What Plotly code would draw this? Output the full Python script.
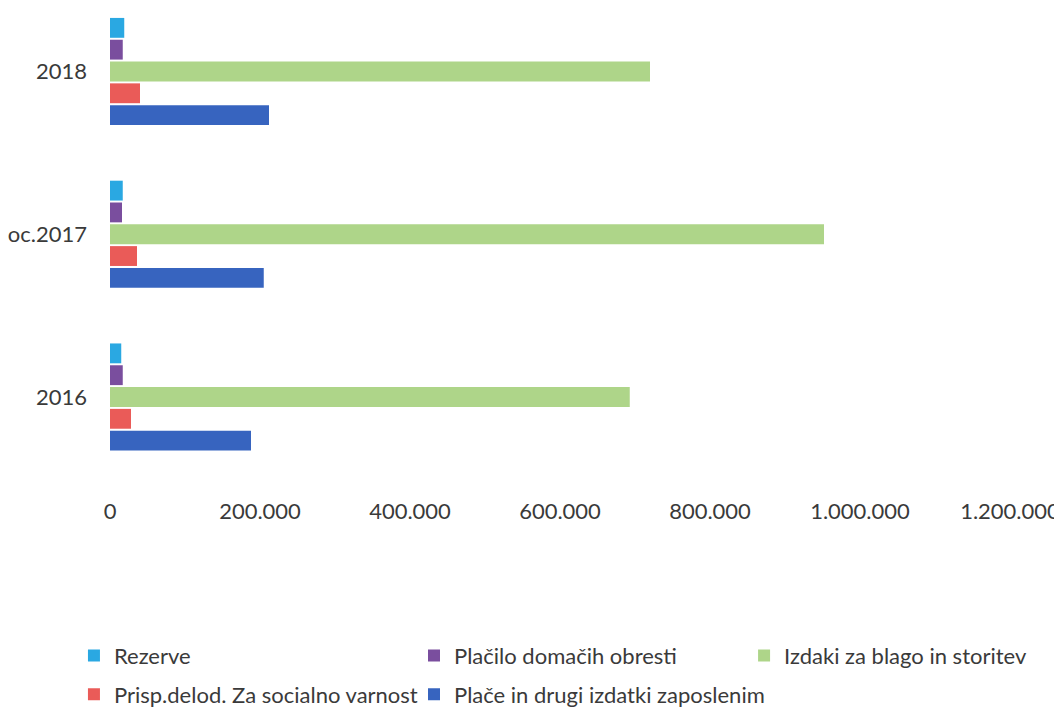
import plotly.graph_objects as go

categories = ["2016", "oc.2017", "2018"]
series_names = [
    "Rezerve",
    "Plačilo domačih obresti",
    "Izdaki za blago in storitev",
    "Prisp.delod. Za socialno varnost",
    "Plače in drugi izdatki zaposlenim",
]
rezerve = [15000, 17000, 19000]
placilo_obresti = [17000, 16000, 17000]
izdaki_blago = [693000, 952000, 720000]
prispevki = [28000, 36000, 40000]
place = [188000, 205000, 212000]
colors = ["#2aa8e2", "#7a4e9e", "#aed589", "#ea5b58", "#3764bf"]
x_tickvals = [0, 200000, 400000, 600000, 800000, 1000000, 1200000]

values = [rezerve, placilo_obresti, izdaki_blago, prispevki, place]
# legend column for each series (row 1: 0,1,2 ; row 2: 0,1)
legend_ids = ["legend", "legend2", "legend3", "legend", "legend2"]

fig = go.Figure()
for i in reversed(range(len(series_names))):
    fig.add_trace(go.Bar(
        y=categories, x=values[i], orientation="h",
        name=series_names[i], marker=dict(color=colors[i], line=dict(width=0)),
        legend=legend_ids[i], legendgroup="g%d" % i, legendrank=i + 1,
    ))

leg_common = dict(orientation="v", yanchor="top", xanchor="left", y=0.1172,
                  xref="container", yref="container",
                  font=dict(size=22, color="#3a3a3a"), tracegroupgap=7,
                  bgcolor="rgba(0,0,0,0)", traceorder="grouped")

fig.update_layout(
    width=1062, height=710,
    margin=dict(l=102, r=60, t=0, b=238, autoexpand=False),
    paper_bgcolor="white", plot_bgcolor="white",
    barmode="group", bargap=0.33, bargroupgap=0.09,
    separators=",.",
    font=dict(family="Lato, Open Sans, sans-serif", size=22, color="#3a3a3a"),
    xaxis=dict(range=[0, 1200000], tickvals=x_tickvals, tickformat=",d",
               showgrid=False, zeroline=False, showline=False, automargin=False,
               ticks="", ticklabelstandoff=16, tickfont=dict(size=22)),
    yaxis=dict(range=[-0.51, 2.39], showgrid=False, zeroline=False,
               showline=False, ticks="", ticklabelstandoff=22, automargin=False,
               tickfont=dict(size=22)),
    legend=dict(x=0.0621, **leg_common),
    legend2=dict(x=0.3823, **leg_common),
    legend3=dict(x=0.6931, **leg_common),
)

fig.write_html("out.html")
